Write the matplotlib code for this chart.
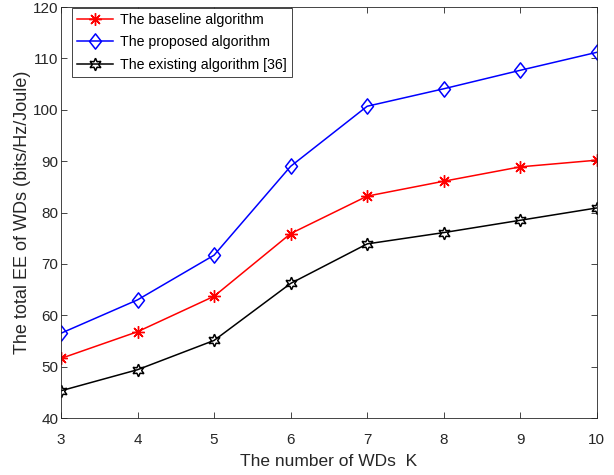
import matplotlib.pyplot as plt
from matplotlib.path import Path

# 数据
K = [3, 4, 5, 6, 7, 8, 9, 10]
baseline = [51.6, 56.8, 63.7, 75.9, 83.2, 86.1, 88.9, 90.2]
proposed = [56.5, 63.0, 71.7, 89.0, 100.7, 104.1, 107.7, 111.2]
existing = [45.3, 49.4, 55.1, 66.2, 73.9, 76.1, 78.5, 80.9]

labels = ['The baseline algorithm', 'The proposed algorithm', 'The existing algorithm [36]']

plt.rcParams['font.family'] = ['Liberation Sans', 'DejaVu Sans']
axis_color = '#262626'

# MATLAB风格的菱形标记（略高）
diamond = Path([(0, 1), (0.78, 0), (0, -1), (-0.78, 0), (0, 1)],
               [Path.MOVETO, Path.LINETO, Path.LINETO, Path.LINETO, Path.CLOSEPOLY])

fig = plt.figure(figsize=(6.14, 4.75), dpi=100)
ax = fig.add_axes([0.0993, 0.12, 0.8727, 0.865])

ax.plot(K, baseline, color='red', marker=(8, 2, 0), markersize=9, linewidth=1.1,
        markeredgewidth=1.0, label=labels[0])
ax.plot(K, proposed, color='blue', marker=diamond, markersize=11, linewidth=1.1,
        markerfacecolor='none', markeredgewidth=1.1, label=labels[1])
ax.plot(K, existing, color='black', marker=(6, 1, 0), markersize=9, linewidth=1.1,
        markerfacecolor='none', markeredgewidth=1.1, label=labels[2])

ax.set_xlim(3, 10)
ax.set_ylim(40, 120)
ax.set_xticks(range(3, 11))
ax.set_yticks(range(40, 121, 10))

ax.tick_params(direction='in', top=True, right=True, length=4, width=0.6,
               labelsize=11, colors=axis_color)
ax.tick_params(axis='x', pad=11)
ax.tick_params(axis='y', pad=2)
for s in ax.spines.values():
    s.set_color(axis_color)
    s.set_linewidth(0.6)

ax.set_xlabel('The number of WDs  K', fontsize=12.5, color=axis_color, labelpad=5)
ax.set_ylabel('The total EE of WDs (bits/Hz/Joule)', fontsize=13, color=axis_color, labelpad=1)

leg = ax.legend(loc='upper left', bbox_to_anchor=(0.02, 1.0), fontsize=10.2,
                frameon=True, fancybox=False, framealpha=1, borderpad=0.35,
                labelspacing=0.6, handlelength=2.5, handletextpad=0.5,
                borderaxespad=0.05)
leg.get_frame().set_edgecolor(axis_color)
leg.get_frame().set_linewidth(0.6)

fig.savefig('out.png', dpi=100)
